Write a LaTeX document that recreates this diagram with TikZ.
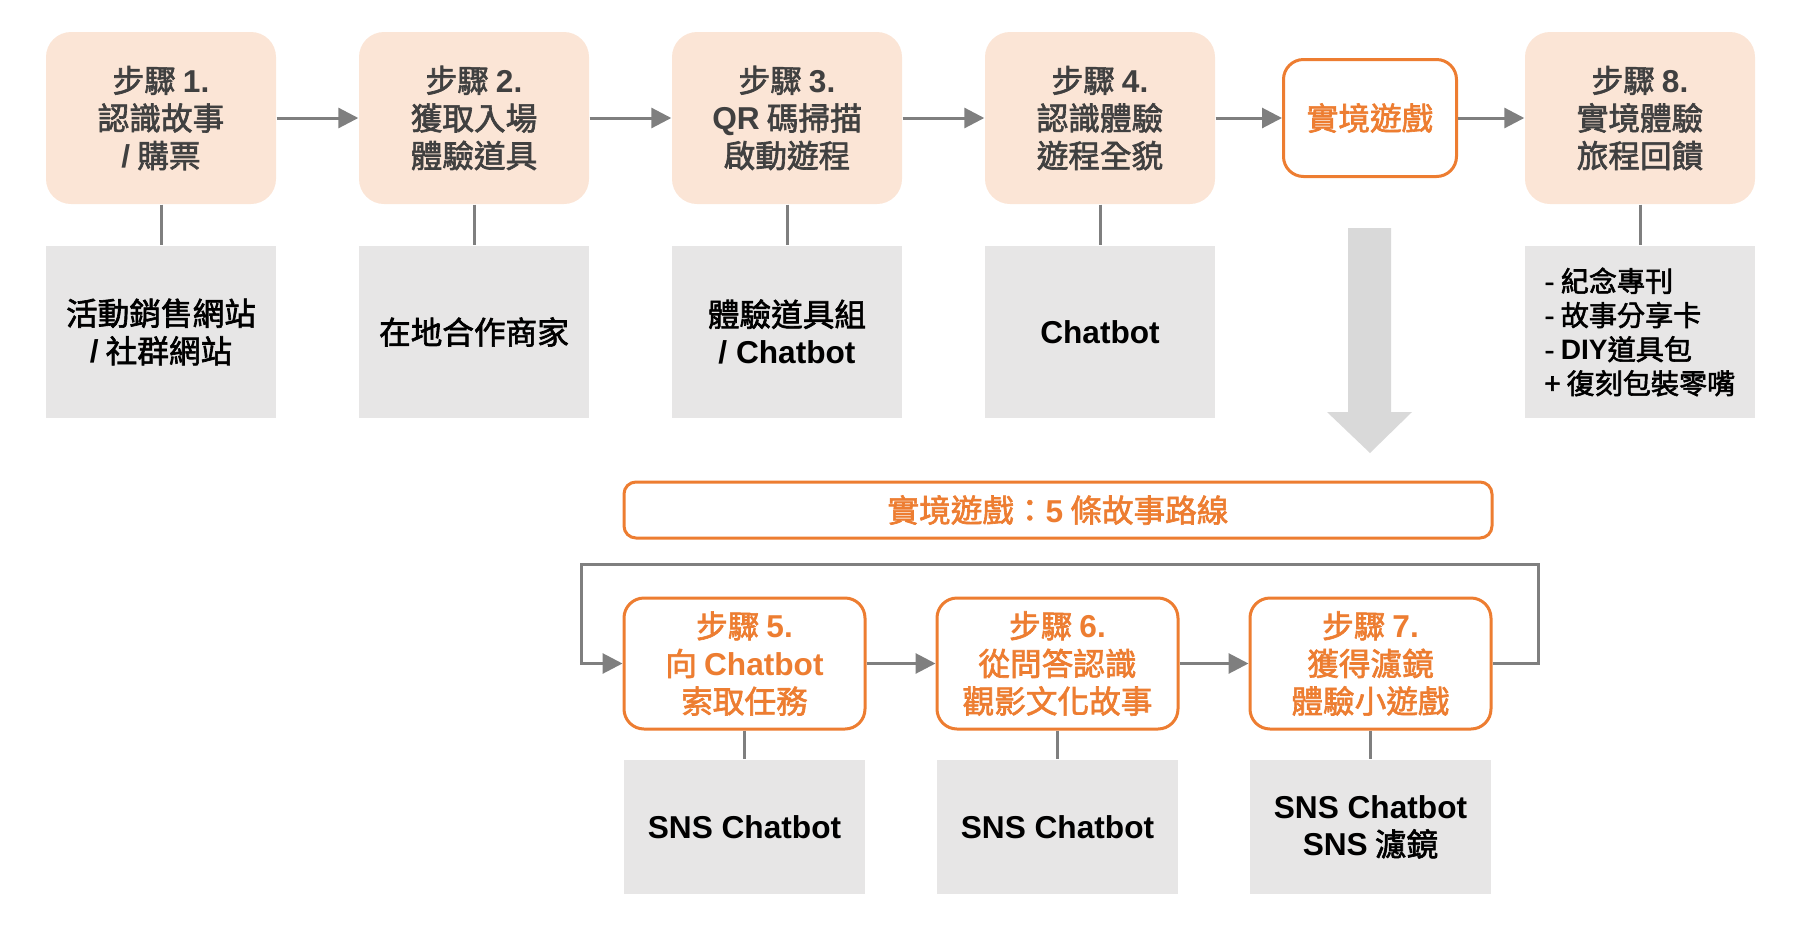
\documentclass[tikz,border=0pt]{standalone}
\usepackage{fontspec}
\setmainfont{Noto Sans CJK TC}[BoldFont={Noto Sans CJK TC}, BoldFeatures={FakeBold=2}]
\newfontfamily\arialfont{Liberation Sans}
\usetikzlibrary{arrows.meta}

\definecolor{peach}{HTML}{FBE5D6}
\definecolor{darktxt}{HTML}{404040}
\definecolor{toolgray}{HTML}{E7E6E6}
\definecolor{linegray}{HTML}{7F7F7F}
\definecolor{orng}{HTML}{ED7D31}
\definecolor{biggray}{HTML}{D9D9D9}

\newcommand{\eng}[1]{{\arialfont\bfseries #1}}
\newcommand{\boxfont}{\fontsize{9pt}{10.7pt}\selectfont\bfseries}
\newcommand{\listfont}{\fontsize{8pt}{9.7pt}\selectfont\bfseries}

\begin{document}
\begin{tikzpicture}[
    stepbox/.style={fill=peach, rounded corners=0.25cm, minimum width=2.3cm, minimum height=1.72cm, align=center, text=darktxt, font=\boxfont},
    toolbox/.style={fill=toolgray, minimum width=2.3cm, minimum height=1.72cm, align=center, text=black, font=\boxfont},
    gamebox/.style={draw=orng, line width=0.03cm, fill=white, rounded corners=0.2cm, align=center, text=orng, font=\boxfont},
    link/.style={draw=linegray, line width=0.03cm},
    flow/.style={link, -{Triangle[length=0.2cm,width=0.2cm]}}]
        \useasboundingbox (0,0) rectangle (17.94,-9.26);
        % top row
        \foreach \i/\x/\txt/\sub in {
            1/1.61/{步驟 \eng{1.}\\認識故事\\\eng{/} 購票}/{活動銷售網站\\\eng{/} 社群網站},
            2/4.74/{步驟 \eng{2.}\\獲取入場\\體驗道具}/{在地合作商家},
            3/7.87/{步驟 \eng{3.}\\\eng{QR} 碼掃描\\啟動遊程}/{體驗道具組\\\eng{/ Chatbot}},
            4/11.00/{步驟 \eng{4.}\\認識體驗\\遊程全貌}/{\eng{Chatbot}}}
        {
            \node[stepbox] (s\i) at (\x,-1.18) {\txt};
            \node[toolbox] (t\i) at (\x,-3.32) {\sub};
            \draw[link] (s\i) -- (t\i);
        }
        \node[gamebox, minimum width=1.73cm, minimum height=1.17cm] (game) at (13.70,-1.18) {實境遊戲};
        \node[stepbox] (s8) at (16.40,-1.18) {步驟 \eng{8.}\\實境體驗\\旅程回饋};
        \node[toolbox, align=left, font=\listfont] (t8) at (16.40,-3.32) {- 紀念專刊\\- 故事分享卡\\- \eng{DIY}道具包\\+ 復刻包裝零嘴};
        \draw[link] (s8) -- (t8);
        \draw[flow] (s1) -- (s2);
        \draw[flow] (s2) -- (s3);
        \draw[flow] (s3) -- (s4);
        \draw[flow] (s4) -- (game);
        \draw[flow] (game) -- (s8);
        % big arrow down
        \fill[biggray] (13.48,-2.28) -- (13.91,-2.28) -- (13.91,-4.12) -- (14.12,-4.12)
            -- (13.70,-4.53) -- (13.27,-4.12) -- (13.48,-4.12) -- cycle;
        \node[gamebox, rounded corners=0.12cm, minimum width=8.68cm, minimum height=0.56cm] (route) at (10.58,-5.10) {實境遊戲：\eng{5} 條故事路線};
        % bottom row
        \foreach \i/\x/\txt/\sub in {
            5/7.445/{步驟 \eng{5.}\\向 \eng{Chatbot}\\索取任務}/{\eng{SNS Chatbot}},
            6/10.575/{步驟 \eng{6.}\\從問答認識\\觀影文化故事}/{\eng{SNS Chatbot}},
            7/13.705/{步驟 \eng{7.}\\獲得濾鏡\\體驗小遊戲}/{\eng{SNS Chatbot}\\\eng{SNS} 濾鏡}}
        {
            \node[gamebox, minimum width=2.41cm, minimum height=1.31cm] (s\i) at (\x,-6.635) {\txt};
            \node[toolbox, minimum width=2.41cm, minimum height=1.34cm] (t\i) at (\x,-8.27) {\sub};
            \draw[link] (s\i) -- (t\i);
        }
        \coordinate (loopL) at (5.81,-5.64);
        \draw[flow] (s5) -- (s6);
        \draw[flow] (s6) -- (s7);
        \draw[flow] (s7.east) -- ++(0.46,0) |- (loopL) |- (s5.west);
\end{tikzpicture}
\end{document}
